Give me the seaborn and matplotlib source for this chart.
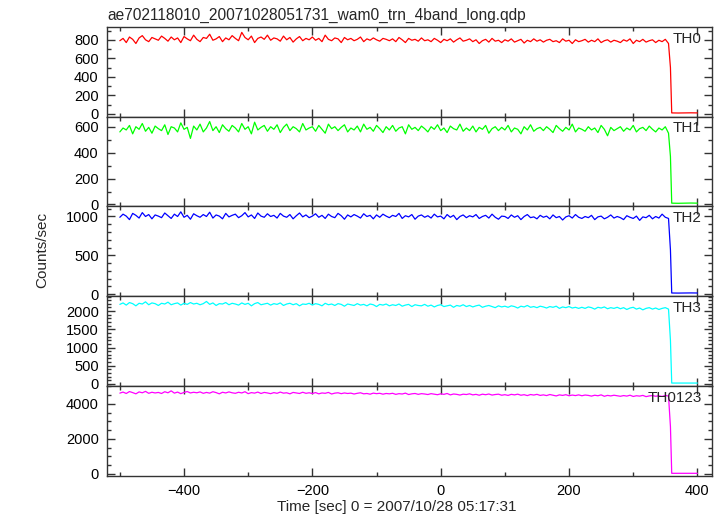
import numpy as np
import pandas as pd
import matplotlib.pyplot as plt
import seaborn as sns
from matplotlib.ticker import MultipleLocator

# Time grid (5 s bins) up to the drop, then the tail after the drop
time_main = np.arange(-500, 356, 5)
time_tail = [358, 360, 370, 380, 390, 400]
time = np.concatenate([time_main, time_tail])

th0 = [790, 815, 770, 830, 805, 760, 820, 845, 800, 780, 825, 810,
       795, 840, 815, 785, 830, 800, 820, 770, 835, 810, 790, 850,
       805, 780, 825, 815, 860, 795, 810, 835, 780, 820, 800, 845,
       815, 790, 880, 825, 800, 840, 770, 815, 830, 805, 850, 795,
       820, 810, 785, 840, 800, 825, 775, 810, 835, 790, 815, 800,
       830, 795, 815, 780, 850, 805, 790, 820, 810, 770, 825, 800,
       815, 790, 805, 830, 780, 810, 795, 820, 800, 785, 815, 805,
       790, 810, 780, 825, 800, 770, 815, 795, 805, 785, 820, 790,
       800, 780, 815, 795, 770, 805, 790, 810, 775, 800, 820, 785,
       795, 810, 780, 800, 760, 790, 805, 775, 815, 785, 795, 770,
       800, 785, 810, 775, 790, 805, 765, 795, 780, 810, 785, 800,
       775, 795, 805, 780, 790, 770, 810, 785, 795, 760, 800, 780,
       790, 805, 775, 795, 780, 810, 770, 790, 800, 775, 795, 785,
       770, 800, 785, 810, 760, 795, 780, 805, 775, 790, 800, 770,
       795, 780, 805, 760,
       500, 10, 9, 10, 11, 10]

th1 = [560, 590, 575, 610, 545, 600, 580, 625, 565, 595, 550, 605,
       585, 570, 615, 540, 600, 590, 560, 630, 580, 595, 510, 605,
       575, 620, 560, 590, 640, 570, 600, 555, 615, 585, 565, 610,
       590, 560, 625, 580, 600, 545, 635, 575, 595, 610, 565, 600,
       580, 615, 555, 595, 620, 570, 600, 585, 560, 625, 575, 590,
       600, 565, 610, 580, 550, 620, 585, 600, 570, 595, 615, 560,
       590, 575, 605, 560, 620, 580, 595, 565, 610, 585, 555, 600,
       575, 610, 565, 590, 600, 545, 615, 580, 595, 570, 605, 585,
       560, 600, 580, 615, 570, 590, 555, 605, 585, 575, 620, 565,
       590, 570, 605, 560, 595, 580, 610, 550, 585, 600, 570, 595,
       575, 610, 560, 590, 580, 545, 600, 575, 615, 565, 585, 595,
       570, 600, 580, 555, 610, 585, 565, 595, 575, 620, 560, 590,
       580, 565, 600, 575, 590, 555, 610, 580, 530, 595, 570, 585,
       600, 565, 590, 575, 610, 560, 585, 595, 570, 605, 580, 560,
       590, 575, 600, 550,
       370, 10, 9, 10, 11, 10]

th2 = [990, 1030, 1005, 960, 1040, 1015, 980, 1050, 1000, 1025, 970, 1020,
       1005, 985, 1045, 1010, 975, 1030, 1000, 1060, 990, 1015, 965, 1035,
       1010, 990, 1025, 1000, 1055, 980, 1020, 1005, 970, 1040, 995, 1015,
       1030, 985, 1010, 1050, 995, 1020, 975, 1045, 1005, 990, 1035, 1000,
       1015, 980, 1040, 1005, 990, 1025, 970, 1010, 1045, 995, 1020, 985,
       1005, 1035, 990, 1015, 975, 1030, 1000, 985, 1040, 1010, 965, 1020,
       995, 1025, 1005, 980, 1035, 1000, 1015, 970, 1020, 990, 1030, 1005,
       985, 1015, 1000, 1040, 975, 1010, 995, 1025, 965, 1005, 1020, 990,
       1010, 980, 1030, 995, 1005, 970, 1025, 990, 1015, 960, 1000, 1020,
       985, 1010, 995, 1025, 975, 1000, 1015, 980, 1030, 990, 965, 1005,
       1000, 975, 1020, 990, 1010, 960, 1000, 1025, 985, 995, 970, 1015,
       990, 1005, 970, 1020, 985, 1000, 955, 995, 1010, 980, 1025, 990,
       975, 1000, 985, 1015, 960, 995, 1005, 970, 990, 1020, 980, 1000,
       985, 960, 1010, 990, 975, 1005, 950, 995, 985, 1015, 970, 1000,
       980, 1030, 990, 975,
       570, 15, 14, 15, 16, 15]

th3 = [2185, 2225, 2165, 2235, 2205, 2145, 2215, 2195, 2255, 2175, 2225, 2205,
       2155, 2215, 2195, 2245, 2175, 2205, 2225, 2165, 2215, 2185, 2235, 2195,
       2215, 2175, 2205, 2265, 2185, 2225, 2155, 2205, 2195, 2235, 2175, 2215,
       2195, 2165, 2225, 2185, 2215, 2145, 2205, 2235, 2175, 2195, 2215, 2165,
       2205, 2185, 2225, 2155, 2195, 2215, 2175, 2205, 2145, 2195, 2185, 2215,
       2165, 2205, 2185, 2145, 2215, 2175, 2195, 2155, 2205, 2185, 2135, 2195,
       2175, 2155, 2205, 2165, 2185, 2145, 2195, 2175, 2125, 2185, 2165, 2195,
       2145, 2175, 2155, 2195, 2135, 2165, 2185, 2125, 2175, 2155, 2145, 2185,
       2135, 2165, 2115, 2155, 2175, 2125, 2145, 2165, 2105, 2155, 2135, 2175,
       2125, 2155, 2115, 2145, 2165, 2105, 2135, 2155, 2125, 2095, 2145, 2115,
       2135, 2105, 2145, 2125, 2085, 2135, 2115, 2155, 2105, 2125, 2095, 2135,
       2115, 2085, 2125, 2105, 2135, 2075, 2115, 2095, 2125, 2085, 2105, 2075,
       2105, 2075, 2115, 2095, 2055, 2105, 2085, 2115, 2065, 2095, 2075, 2105,
       2065, 2095, 2045, 2085, 2105, 2055, 2085, 2035, 2075, 2095, 2055, 2085,
       2045, 2075, 2095, 2055,
       1200, 25, 24, 25, 26, 25]

th0123 = [4620, 4680, 4600, 4710, 4650, 4580, 4690, 4640, 4720, 4610, 4670, 4630,
          4660, 4600, 4700, 4640, 4750, 4620, 4680, 4590, 4660, 4710, 4630, 4670,
          4640, 4690, 4610, 4660, 4620, 4700, 4650, 4580, 4670, 4630, 4690, 4640,
          4610, 4670, 4630, 4700, 4590, 4650, 4620, 4680, 4600, 4660, 4630, 4590,
          4650, 4610, 4680, 4620, 4640, 4580, 4660, 4630, 4600, 4670, 4610, 4640,
          4600, 4650, 4580, 4630, 4610, 4660, 4570, 4620, 4640, 4590, 4630, 4600,
          4620, 4570, 4610, 4640, 4580, 4600, 4560, 4620, 4590, 4610, 4560, 4600,
          4580, 4610, 4550, 4590, 4570, 4620, 4540, 4580, 4600, 4550, 4590, 4570,
          4540, 4590, 4560, 4530, 4580, 4550, 4600, 4520, 4570, 4550, 4510, 4560,
          4540, 4580, 4520, 4550, 4500, 4560, 4530, 4570, 4510, 4540, 4560, 4500,
          4530, 4490, 4550, 4520, 4560, 4500, 4530, 4480, 4540, 4510, 4550, 4490,
          4520, 4480, 4540, 4500, 4460, 4520, 4490, 4530, 4470, 4510, 4480, 4520,
          4470, 4510, 4490, 4450, 4500, 4470, 4520, 4440, 4490, 4460, 4500, 4470,
          4440, 4480, 4450, 4500, 4430, 4470, 4450, 4490, 4420, 4460, 4480, 4440,
          4470, 4430, 4490, 4450,
          2700, 30, 28, 30, 31, 30]

bands = ["TH0", "TH1", "TH2", "TH3", "TH0123"]
series = [th0, th1, th2, th3, th0123]
colors = ["#ff0000", "#00ff00", "#0000ff", "#00ffff", "#ff00ff"]
ylims = [(-30, 940), (-15, 678), (-26, 1130), (-55, 2410), (-110, 5030)]
major_steps = [200, 200, 500, 500, 2000]
minor_steps = [100, 100, 100, 100, 500]

sns.set_theme(style="ticks")
plt.rcParams["font.family"] = ["Liberation Sans", "DejaVu Sans"]

fig, axes = plt.subplots(5, 1, sharex=True, figsize=(7.23, 5.16), dpi=100)
fig.subplots_adjust(left=0.148, right=0.985, top=0.948, bottom=0.078, hspace=0)

for ax, name, vals, color, ylim, maj, mnr in zip(axes, bands, series, colors,
                                                 ylims, major_steps, minor_steps):
    df = pd.DataFrame({"time": time, "rate": vals})
    sns.lineplot(data=df, x="time", y="rate", ax=ax, color=color, lw=0.9)
    ax.set_ylim(*ylim)
    ax.yaxis.set_major_locator(MultipleLocator(maj))
    ax.yaxis.set_minor_locator(MultipleLocator(mnr))
    ax.xaxis.set_major_locator(MultipleLocator(200))
    ax.xaxis.set_minor_locator(MultipleLocator(100))
    ax.set_xlabel("")
    ax.set_ylabel("")
    ax.tick_params(which="both", direction="in", top=True, right=True,
                   colors="#333333", labelcolor="black", labelsize=10.5)
    ax.tick_params(which="major", length=6, width=1, pad=6)
    ax.tick_params(which="minor", length=3, width=1)
    for sp in ax.spines.values():
        sp.set_color("#333333")
        sp.set_linewidth(1)
    ax.text(0.983, 0.87, name, transform=ax.transAxes, ha="right",
            va="center", fontsize=11)

axes[-1].set_xlim(-520, 423)

fig.text(107 / 723, 1 - 15 / 516, "ae702118010_20071028051731_wam0_trn_4band_long.qdp",
         ha="left", va="center", fontsize=11.2)
fig.text(42 / 723, 1 - 250 / 516, "Counts/sec", rotation=90,
         ha="center", va="center", fontsize=11)
fig.text(397 / 723, 1 - 507 / 516, "Time [sec] 0 = 2007/10/28 05:17:31",
         ha="center", va="center", fontsize=11)

plt.savefig("out.png", dpi=100)
